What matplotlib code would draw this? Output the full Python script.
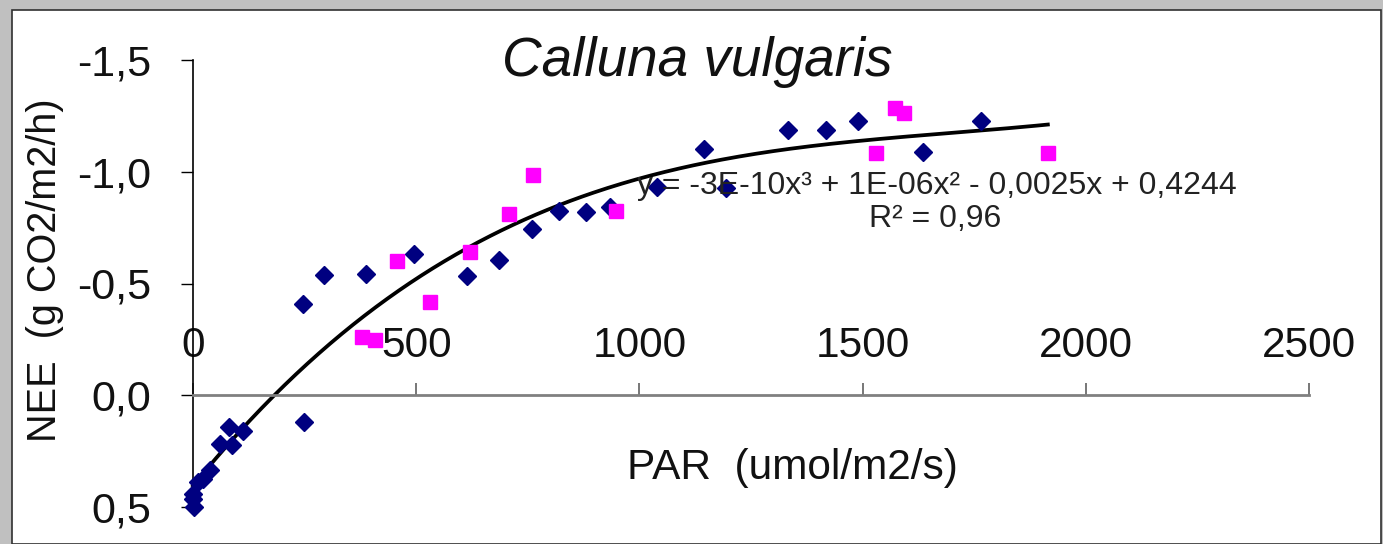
import numpy as np
import matplotlib
matplotlib.use("Agg")
import matplotlib.pyplot as plt
from matplotlib.patches import Rectangle

plt.rcParams['font.family'] = ['Liberation Sans', 'DejaVu Sans']

# Series 1 (navy diamonds)
par_blue = [1, 0, 2, 12, 23, 38, 60, 87, 81, 113, 247, 249, 293, 387, 496,
            614, 685, 759, 820, 881, 934, 1039, 1145, 1193, 1334, 1418, 1490,
            1635, 1765]
nee_blue = [0.44, 0.462, 0.50, 0.388, 0.373, 0.336, 0.216, 0.224, 0.142, 0.16,
            -0.41, 0.121, -0.54, -0.543, -0.634,
            -0.533, -0.607, -0.742, -0.826, -0.82, -0.843, -0.932, -1.10, -0.928,
            -1.186, -1.186, -1.228, -1.089, -1.226]

# Series 2 (magenta squares)
par_pink = [378, 408, 456, 532, 620, 708, 762, 948, 1530, 1573, 1593, 1915]
nee_pink = [-0.261, -0.249, -0.601, -0.418, -0.642, -0.809, -0.985, -0.826,
            -1.082, -1.283, -1.265, -1.085]

x_ticks = [0, 500, 1000, 1500, 2000, 2500]
y_ticks = [-1.5, -1.0, -0.5, 0.0, 0.5]
y_tick_labels = ["-1,5", "-1,0", "-0,5", "0,0", "0,5"]

title = "Calluna vulgaris"
eq_text = "y = -3E-10x\u00b3 + 1E-06x\u00b2 - 0,0025x + 0,4244"
r2_text = "R\u00b2 = 0,96"

W, H = 1383, 544
fig = plt.figure(figsize=(W / 100, H / 100), dpi=100, facecolor='#c0c0c0')
bg = Rectangle((12 / W, 0), (1381 - 12) / W, (534 - 0) / H,
               transform=fig.transFigure, facecolor='white',
               edgecolor='#303030', linewidth=1.2, zorder=-10)
fig.add_artist(bg)

ax = fig.add_axes([193 / W, (H - 507) / H, (1309 - 193) / W, (507 - 60) / H])
ax.set_facecolor('none')
ax.set_zorder(1)

# trend line: 3rd order polynomial fit of all points (as Excel does)
all_x = np.array(par_blue + par_pink, dtype=float)
all_y = np.array(nee_blue + nee_pink, dtype=float)
coef = np.polyfit(all_x, all_y, 3)
xx = np.linspace(0, max(all_x), 300)
ax.plot(xx, np.polyval(coef, xx), color='black', linewidth=2.7, zorder=2,
        clip_on=False)

ax.plot(par_blue, nee_blue, linestyle='none', marker='D', markersize=9.3,
        color='#000080', markeredgecolor='#000080', zorder=3, clip_on=False)
ax.plot(par_pink, nee_pink, linestyle='none', marker='s', markersize=9.5,
        color='#ff00ff', markeredgecolor='#ff00ff', zorder=3, clip_on=False)

ax.set_xlim(0, 2500)
ax.set_ylim(0.5, -1.5)

ax.spines['right'].set_visible(False)
ax.spines['bottom'].set_visible(False)
ax.spines['left'].set_color('black')
ax.spines['left'].set_linewidth(1.2)
ax.spines['top'].set_position(('data', 0))
ax.spines['top'].set_color('#808080')
ax.spines['top'].set_linewidth(2)

ax.xaxis.set_ticks_position('top')
ax.xaxis.set_label_position('bottom')
ax.set_xticks(x_ticks)
ax.set_xticklabels([str(v) for v in x_ticks])
ax.tick_params(axis='x', direction='out', length=9, width=1.2, color='#606060',
               pad=12, labelsize=30.5, labelcolor='#111111')

ax.set_yticks(y_ticks)
ax.set_yticklabels(y_tick_labels)
ax.tick_params(axis='y', direction='out', length=9, width=1, color='black',
               pad=21, labelsize=31, labelcolor='#111111')

ax.set_xlabel("PAR  (umol/m2/s)", fontsize=30.5, color='#111111', va='center')
ax.xaxis.set_label_coords(0.537, 0.087)
ax.set_ylabel("NEE  (g CO2/m2/h)", fontsize=28.5, color='#111111', va='center')
ax.yaxis.set_label_coords(-0.133, 0.53)

fig.text(697 / W, (H - 62) / H, title, fontsize=39.5, style='italic',
         ha='center', va='center', color='#111111')

ax.text(0.667, 0.718, eq_text, transform=ax.transAxes, fontsize=23,
        ha='center', va='center', color='#222222', zorder=4)
ax.text(0.665, 0.645, r2_text, transform=ax.transAxes, fontsize=23,
        ha='center', va='center', color='#222222', zorder=4)

fig.savefig('out.png', dpi=100, facecolor=fig.get_facecolor())
